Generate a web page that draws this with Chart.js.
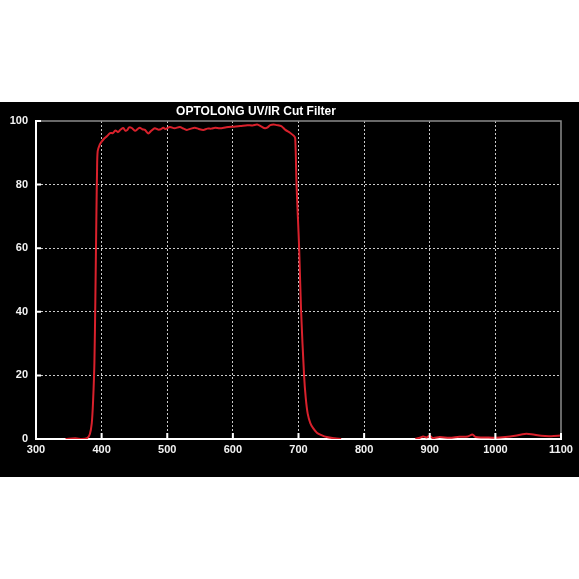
<!DOCTYPE html>
<html>
<head>
<meta charset="utf-8">
<script src="https://cdn.jsdelivr.net/npm/chart.js@4"></script>
<style>
html,body{margin:0;padding:0;background:#fff;}
#c{display:block;}
</style>
</head>
<body>
<canvas id="c" width="579" height="579"></canvas>
<script>
const chartTitle = 'OPTOLONG UV/IR Cut Filter';
const xTicks = [300, 400, 500, 600, 700, 800, 900, 1000, 1100];
const yTicks = [0, 20, 40, 60, 80, 100];
const wavelength = [345, 360, 370, 378, 382, 385, 387, 389, 390.5, 392, 393, 394, 397, 400, 404, 408, 413, 417, 421, 425, 429, 433, 436, 439, 442, 446, 451, 455, 458, 462, 466, 471, 476, 481, 486, 490, 494, 497, 504, 511, 519, 525, 530, 536, 542, 548, 555, 561, 567, 573, 580, 590, 600, 611, 622, 630, 637, 643, 649, 653, 657, 662, 667, 672, 675, 680, 687, 693, 695, 697, 699, 701, 704, 708.5, 711, 714, 718, 722, 728, 735, 743, 755, 765, 820, 878, 885, 890, 895, 900, 905, 915, 930, 945, 958, 965, 970, 985, 1000, 1015, 1030, 1045, 1055, 1070, 1085, 1100];
const transmission = [0, 0.2, 0, 0.3, 1.5, 5, 12, 24, 45, 70, 84, 90.5, 92.5, 93.5, 94.5, 95.2, 96.2, 96.2, 97.0, 96.5, 97.3, 97.8, 97.0, 97.2, 98.0, 97.8, 96.9, 97.5, 97.9, 97.4, 97.2, 96.1, 97.0, 97.7, 97.3, 97.4, 97.9, 97.5, 98.1, 97.7, 98.1, 97.6, 97.2, 97.6, 97.9, 97.5, 97.2, 97.6, 97.6, 97.9, 97.7, 98.0, 98.2, 98.4, 98.7, 98.6, 98.9, 98.3, 97.7, 98.0, 98.7, 98.9, 98.7, 98.5, 98.2, 97.2, 96.3, 95.3, 94.5, 80, 70, 60, 40, 20, 13, 8, 5, 3.5, 2, 1.2, 0.6, 0.2, 0, null, 0.1, 0.4, 0.8, 0.5, 1.0, 0.3, 0.6, 0.4, 0.7, 0.8, 1.4, 0.6, 0.5, 0.4, 0.6, 1.0, 1.6, 1.5, 1.0, 0.9, 1.1];

const points = wavelength.map((w, i) => ({x: w, y: transmission[i]}));

const decor = {
  id: 'decor',
  beforeDraw(chart) {
    const ctx = chart.ctx;
    ctx.save();
    ctx.fillStyle = '#000';
    ctx.fillRect(0, 102, chart.width, 375);
    ctx.restore();
  },
  beforeDatasetsDraw(chart) {
    const ctx = chart.ctx, a = chart.chartArea;
    ctx.save();
    ctx.strokeStyle = '#8a8a8a';
    ctx.lineWidth = 1.5;
    ctx.beginPath();
    ctx.moveTo(a.left, a.top);
    ctx.lineTo(a.right, a.top);
    ctx.lineTo(a.right, a.bottom);
    ctx.stroke();
    ctx.restore();
  },
  afterDraw(chart) {
    const ctx = chart.ctx, a = chart.chartArea;
    const xs = chart.scales.x, ys = chart.scales.y;
    ctx.save();
    ctx.strokeStyle = '#fff';
    ctx.lineWidth = 2;
    ctx.beginPath();
    xTicks.forEach(v => {
      if (v === xTicks[0]) return;
      const px = xs.getPixelForValue(v);
      ctx.moveTo(px, a.bottom);
      ctx.lineTo(px, a.bottom - 6);
    });
    yTicks.forEach(v => {
      if (v === yTicks[0]) return;
      const py = ys.getPixelForValue(v);
      ctx.moveTo(a.left, py);
      ctx.lineTo(a.left + 5, py);
    });
    ctx.stroke();
    ctx.fillStyle = '#fff';
    ctx.font = 'bold 12px "Liberation Sans", Arial, sans-serif';
    ctx.textAlign = 'center';
    ctx.textBaseline = 'alphabetic';
    ctx.fillText(chartTitle, 256, 115);
    ctx.restore();
  }
};

const tickFont = {family: '"Liberation Sans", Arial, sans-serif', size: 11, weight: 'bold'};

new Chart(document.getElementById('c'), {
  type: 'line',
  data: {
    datasets: [{
      data: points,
      borderColor: '#d9212c',
      borderWidth: 2,
      pointRadius: 0,
      tension: 0.3,
      spanGaps: false,
      fill: false
    }]
  },
  options: {
    responsive: false,
    animation: false,
    devicePixelRatio: 1,
    layout: {padding: {top: 121, left: 0, right: 18, bottom: 120}},
    plugins: {legend: {display: false}, tooltip: {enabled: false}, title: {display: false}},
    scales: {
      x: {
        type: 'linear',
        min: 300, max: 1100,
        afterFit(s) { s.height = 20; },
        afterBuildTicks(s) { s.ticks = xTicks.map(v => ({value: v})); },
        ticks: {color: '#f2f2f2', font: tickFont, padding: 4, maxRotation: 0, callback: v => String(v)},
        grid: {
          drawTicks: false,
          lineWidth: 1,
          color: c => (c.tick && (c.tick.value === 300 || c.tick.value === 1100)) ? 'rgba(0,0,0,0)' : 'rgba(225,225,225,0.9)'
        },
        border: {display: true, color: '#ffffff', width: 2, dash: [2, 2]}
      },
      y: {
        min: 0, max: 100,
        afterFit(s) { s.width = 36; },
        afterBuildTicks(s) { s.ticks = yTicks.map(v => ({value: v})); },
        ticks: {color: '#f2f2f2', font: tickFont, padding: 8, callback: v => String(v)},
        grid: {
          drawTicks: false,
          lineWidth: 1,
          color: c => (c.tick && (c.tick.value === 0 || c.tick.value === 100)) ? 'rgba(0,0,0,0)' : 'rgba(225,225,225,0.9)'
        },
        border: {display: true, color: '#ffffff', width: 2, dash: [2, 2]}
      }
    }
  },
  plugins: [decor]
});
</script>
</body>
</html>
